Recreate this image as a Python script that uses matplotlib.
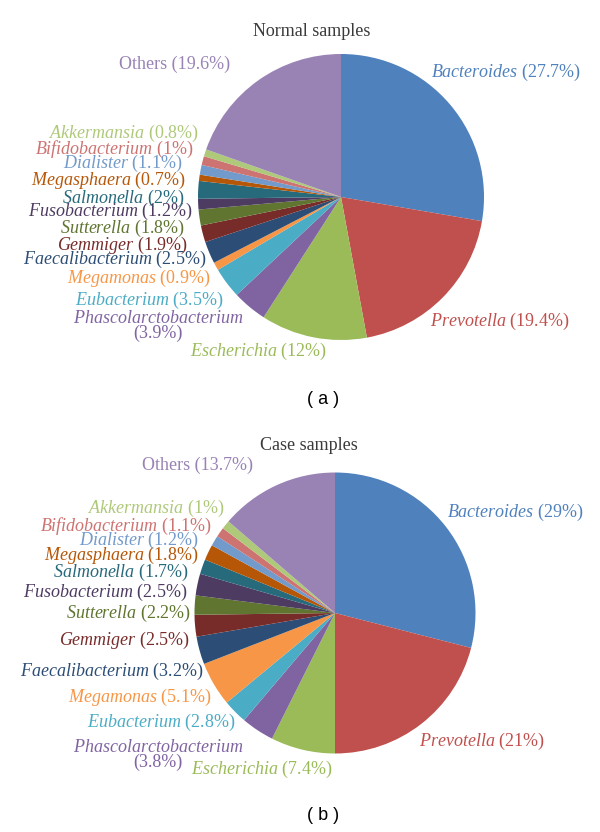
import matplotlib
matplotlib.use('Agg')
import matplotlib.pyplot as plt

# ---------------- data ----------------
genera = ['Bacteroides', 'Prevotella', 'Escherichia', 'Phascolarctobacterium',
          'Eubacterium', 'Megamonas', 'Faecalibacterium', 'Gemmiger',
          'Sutterella', 'Fusobacterium', 'Salmonella', 'Megasphaera',
          'Dialister', 'Bifidobacterium', 'Akkermansia', 'Others']
normal_pct = [27.7, 19.4, 12, 3.9, 3.5, 0.9, 2.5, 1.9, 1.8, 1.2, 2, 0.7, 1.1, 1, 0.8, 19.6]
case_pct = [29, 21, 7.4, 3.8, 2.8, 5.1, 3.2, 2.5, 2.2, 2.5, 1.7, 1.8, 1.2, 1.1, 1, 13.7]
titles = ['Normal samples', 'Case samples']
panel_tags = ['( a )', '( b )']

colors = ['#4F81BD', '#C0504D', '#9BBB59', '#8064A2', '#4BACC6', '#F79646',
          '#2C4D75', '#772C2A', '#5F7530', '#4D3B62', '#276A7C', '#B65708',
          '#729ACA', '#CD7371', '#AFC97A', '#9983B5']

# ---------------- layout (pixels) ----------------
W, H = 600, 832
plt.rcParams['mathtext.fontset'] = 'custom'
plt.rcParams['mathtext.it'] = 'Liberation Serif:italic'
plt.rcParams['mathtext.rm'] = 'Liberation Serif'
plt.rcParams['mathtext.default'] = 'regular'

fig = plt.figure(figsize=(W / 100, H / 100), dpi=100)

def fx(x):
    return x / W

def fy(y):
    return 1 - y / H

# pie centre and radius in pixels
pies = [dict(cx=341, cy=197, r=143, title=(312, 31), tag=(323, 399)),
        dict(cx=335, cy=613, r=140.5, title=(309, 445), tag=(323, 816))]

# label anchor positions (x, y, ha) in pixels
label_pos = [
    {'Others': (175, 64, 'center'), 'Bacteroides': (431, 72, 'left'),
     'Akkermansia': (199, 133, 'right'), 'Bifidobacterium': (194, 149, 'right'),
     'Dialister': (182, 163, 'right'), 'Megasphaera': (185, 180, 'right'),
     'Salmonella': (185, 198, 'right'), 'Fusobacterium': (192, 211, 'right'),
     'Sutterella': (185, 228, 'right'), 'Gemmiger': (188, 245, 'right'),
     'Faecalibacterium': (206, 259, 'right'), 'Megamonas': (210, 278, 'right'),
     'Eubacterium': (223, 300, 'right'), 'Phascolarctobacterium': (158, 326, 'center'),
     'Escherichia': (258, 351, 'center'), 'Prevotella': (430, 321, 'left')},
    {'Others': (198, 465, 'center'), 'Bacteroides': (447, 512, 'left'),
     'Akkermansia': (225, 508, 'right'), 'Bifidobacterium': (212, 526, 'right'),
     'Dialister': (198, 540, 'right'), 'Megasphaera': (198, 555, 'right'),
     'Salmonella': (189, 572, 'right'), 'Fusobacterium': (187, 592, 'right'),
     'Sutterella': (191, 613, 'right'), 'Gemmiger': (190, 640, 'right'),
     'Faecalibacterium': (203, 671, 'right'), 'Megamonas': (211, 697, 'right'),
     'Eubacterium': (235, 722, 'right'), 'Phascolarctobacterium': (158, 755, 'center'),
     'Escherichia': (262, 769, 'center'), 'Prevotella': (419, 741, 'left')},
]

LABEL_FS = 13
TITLE_FS = 13

for p, vals, title, tag, lpos in zip(pies, [normal_pct, case_pct], titles, panel_tags, label_pos):
    cx, cy, r = p['cx'], p['cy'], p['r']
    ax = fig.add_axes([fx(cx - r), fy(cy + r), (2 * r) / W, (2 * r) / H])
    ax.pie(vals, colors=colors, startangle=90, counterclock=False,
           radius=1.0, wedgeprops=dict(linewidth=0))
    ax.set_xlim(-1, 1)
    ax.set_ylim(-1, 1)
    ax.set_aspect('equal')
    ax.axis('off')

    fig.text(fx(p['title'][0]), fy(p['title'][1]), title, family='Liberation Serif',
             fontsize=TITLE_FS, color='#3a3a3a', ha='center', va='center')
    fig.text(fx(p['tag'][0]), fy(p['tag'][1]), tag, family='Liberation Sans',
             fontsize=13, color='black', ha='center', va='center')

    for g, v, c in zip(genera, vals, colors):
        x, y, ha = lpos[g]
        pct = f'({v:g}%)'
        if g == 'Others':
            s = f'Others {pct}'
        elif g == 'Phascolarctobacterium':
            s = r'$\mathit{' + g + '}$' + '\n' + pct
        else:
            s = r'$\mathit{' + g + '}$ ' + pct
        fig.text(fx(x), fy(y), s, family='Liberation Serif', fontsize=LABEL_FS,
                 color=c, ha=ha, va='center', multialignment='center',
                 linespacing=0.9)

fig.savefig('out.png', dpi=100)
